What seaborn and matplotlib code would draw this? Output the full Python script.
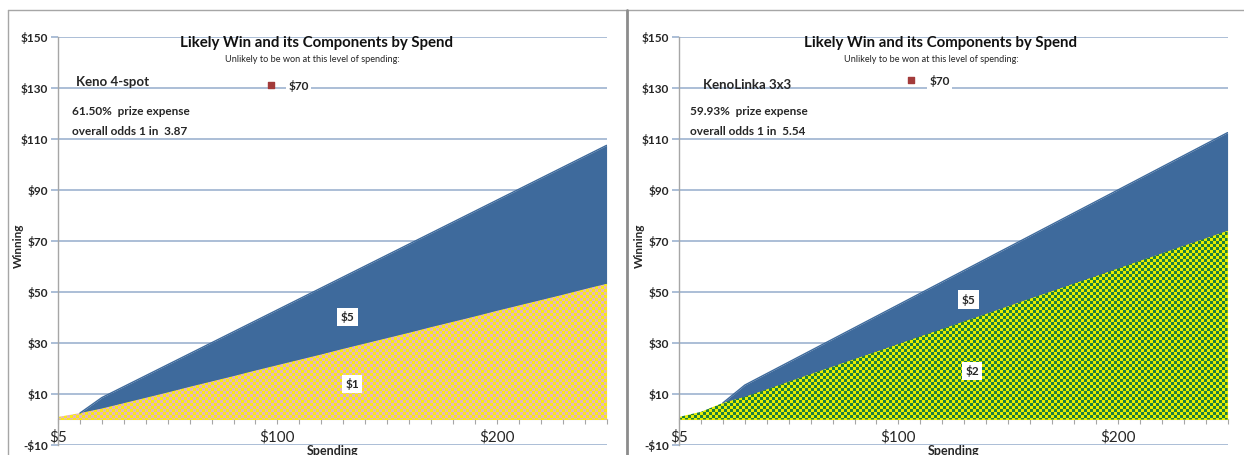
import matplotlib

matplotlib.use("Agg")

import matplotlib.pyplot as plt
import numpy as np
import pandas as pd
import seaborn as sns
from matplotlib.lines import Line2D

sns.set_theme(style="white")
plt.rcParams["font.family"] = ["Lato", "DejaVu Sans"]
plt.rcParams["axes.unicode_minus"] = False

# spending categories (Excel category axis)
spend = [5, 10, 20, 30, 40, 50, 60, 70, 80, 90, 100, 110, 120, 130, 140, 150,
         160, 170, 180, 190, 200, 210, 220, 230, 240, 250]
x_labels = {5: "$5", 100: "$100", 200: "$200"}

# Keno 4-spot: $1 prize component and $5 prize component (stacked)
keno_low = [1.0, 2.5, 4.3, 6.4, 8.5, 10.6, 12.8, 14.9, 17.0, 19.2, 21.3, 23.4, 25.5,
            27.7, 29.8, 31.9, 34.0, 36.2, 38.3, 40.4, 42.6, 44.7, 46.8, 48.9, 51.1, 53.2]
keno_high = [0.0, 0.0, 4.3, 6.5, 8.7, 10.9, 13.0, 15.2, 17.4, 19.5, 21.7, 23.9, 26.1,
             28.2, 30.4, 32.6, 34.8, 36.9, 39.1, 41.3, 43.4, 45.6, 47.8, 50.0, 52.1, 54.3]

# KenoLinka 3x3: $2 prize component and $5 prize component (stacked)
linka_low = [1.0, 3.0, 6.5, 8.9, 11.8, 14.8, 17.8, 20.7, 23.7, 26.6, 29.6, 32.6, 35.5,
             38.5, 41.4, 44.4, 47.4, 50.3, 53.3, 56.2, 59.2, 62.2, 65.1, 68.1, 71.0, 74.0]
linka_high = [0.0, 0.0, 0.0, 4.6, 6.2, 7.7, 9.2, 10.8, 12.3, 13.9, 15.4, 16.9, 18.5,
              20.0, 21.6, 23.1, 24.6, 26.2, 27.7, 29.3, 30.8, 32.3, 33.9, 35.4, 37.0, 38.5]

y_ticks = [-10, 10, 30, 50, 70, 90, 110, 130, 150]

BLUE = "#3E6A9C"
GRID = "#9DB3CF"

panels = [
    dict(name="Keno 4-spot", low=keno_low, high=keno_high, low_lab="$1", high_lab="$5",
         expense="61.50%", odds="3.87", unlikely="$70",
         colors=((0.98, 0.91, 0.10), (0.90, 0.72, 0.74)),
         left=0.0466, name_x=0.82, name_y=132.2, info_x=0.64,
         mark=(9.7, 131.2), mark_txt=(10.5, 130.8),
         high_pos=(13.2, 40.2), low_pos=(13.4, 13.9), title_x=11.8, sub_x=11.6),
    dict(name="KenoLinka 3x3", low=linka_low, high=linka_high, low_lab="$2", high_lab="$5",
         expense="59.93%", odds="5.54", unlikely="$70",
         colors=((0.90, 0.94, 0.0), (0.12, 0.50, 0.24)),
         left=0.5458, name_x=1.1, name_y=131.0, info_x=0.5,
         mark=(10.57, 133.0), mark_txt=(11.4, 132.7),
         high_pos=(13.2, 46.9), low_pos=(13.35, 19.0), title_x=11.9, sub_x=11.5),
]

fig = plt.figure(figsize=(12.44, 4.55), dpi=100)

for p in panels:
    df = pd.DataFrame({"spend": spend, "low": p["low"], "high": p["high"]})
    df["pos"] = np.arange(len(df))
    df["total"] = df["low"] + df["high"]

    ax = fig.add_axes([p["left"], 0.022, 0.441, 0.8967])
    ax.set_facecolor("white")

    # stacked areas
    ax.fill_between(df["pos"], df["low"], df["total"], color=BLUE, lw=0, zorder=2)
    poly = ax.fill_between(df["pos"], 0, df["low"], color=p["colors"][0], lw=0, zorder=2)
    first = max(int(np.argmax(df["high"].to_numpy() > 0)) - 1, 0)
    top = df.iloc[first:]
    sns.lineplot(x=top["pos"], y=top["total"], ax=ax, color=BLUE, lw=1.0, zorder=3)

    # checker texture for the bottom series (~3 px cells)
    ncols, nrows = 183, 136
    ii, jj = np.indices((nrows, ncols))
    chk = ((ii + jj) % 2).astype(bool)
    img = np.zeros((nrows, ncols, 3))
    img[~chk] = p["colors"][0]
    img[chk] = p["colors"][1]
    im = ax.imshow(img, extent=(0, 25, -10, 150), aspect="auto",
                   interpolation="nearest", zorder=2.5)
    im.set_clip_path(poly.get_paths()[0], transform=ax.transData)

    ax.set_xlim(0, 25)
    ax.set_ylim(-10, 150)

    # axes styling
    ax.set_yticks(y_ticks)
    ax.set_yticklabels([f"-${-v}" if v < 0 else f"${v}" for v in y_ticks],
                       fontweight="bold", fontsize=8.5)
    ax.yaxis.grid(True, color=GRID, lw=1.2, zorder=0)
    ax.xaxis.grid(False)
    ax.tick_params(axis="y", length=5, color=GRID, width=1.2, pad=2, left=True)
    ax.set_xticks(df["pos"])
    ax.set_xticklabels([x_labels.get(s, "") for s in spend], fontweight="bold", fontsize=8.5)
    ax.tick_params(axis="x", length=3.5, color="#A6A6A6", width=0.8, pad=4, bottom=True)
    ax.spines["bottom"].set_position(("data", 0))
    ax.spines["bottom"].set_color("#BFBFBF")
    ax.spines["bottom"].set_linewidth(0.8)
    ax.spines["bottom"].set_zorder(1)
    ax.spines["left"].set_color("#A6A6A6")
    ax.spines["left"].set_linewidth(1.0)
    ax.spines["top"].set_visible(False)
    ax.spines["right"].set_visible(False)
    ax.set_xlabel("")
    ax.set_ylabel("")

    # titles and annotations
    ax.text(p["title_x"], 147.6, "Likely Win and its Components by Spend",
            ha="center", va="center", fontsize=10.8, fontweight="bold", color="#111111")
    ax.text(p["sub_x"], 141.0, "Unlikely to be won at this level of spending:",
            ha="center", va="center", fontsize=6.6, color="#222222")
    ax.scatter([p["mark"][0]], [p["mark"][1]], marker="s", s=24, color="#A33B3B",
               zorder=5, clip_on=False)
    ax.text(p["mark_txt"][0], p["mark_txt"][1], p["unlikely"], ha="left", va="center",
            fontsize=8.5, fontweight="bold",
            bbox=dict(facecolor="white", edgecolor="none", pad=1.5), zorder=5)
    ax.text(p["name_x"], p["name_y"], p["name"], ha="left", va="center",
            fontsize=9.5, fontweight="bold", zorder=5)
    ax.text(p["info_x"], 120.6, f"{p['expense']}  prize expense", ha="left", va="center",
            fontsize=8.5, fontweight="bold", zorder=5)
    ax.text(p["info_x"], 113.1, f"overall odds 1 in  {p['odds']}", ha="left", va="center",
            fontsize=8.5, fontweight="bold", zorder=5)
    for (lx, ly), lab in ((p["high_pos"], p["high_lab"]), (p["low_pos"], p["low_lab"])):
        ax.text(lx, ly, lab, ha="center", va="center", fontsize=8.5, fontweight="bold",
                bbox=dict(facecolor="white", edgecolor="none", pad=2.5), zorder=6)

    fig.text(p["left"] + 0.2205, 0.009, "Spending", ha="center", va="center",
             fontsize=9, fontweight="bold")
    fig.text(p["left"] - 0.032, 0.46, "Winning", ha="center", va="center",
             rotation=90, fontsize=8.5, fontweight="bold")

# chart frames
fig.add_artist(Line2D([8 / 1244, 8 / 1244], [0, 445 / 455], color="#A6A6A6", lw=1.0))
fig.add_artist(Line2D([8 / 1244, 1], [445 / 455, 445 / 455], color="#A6A6A6", lw=1.0))
fig.add_artist(Line2D([627 / 1244, 627 / 1244], [0, 445 / 455], color="#8C8C8C", lw=2.0))

fig.savefig("out.png", dpi=100)
